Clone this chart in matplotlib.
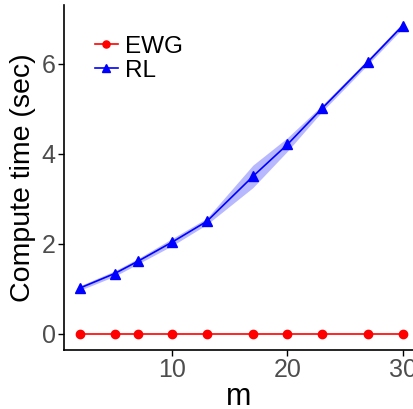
import matplotlib
matplotlib.use("Agg")
import matplotlib.pyplot as plt

m = [2, 5, 7, 10, 13, 17, 20, 23, 27, 30]
ewg = [0, 0, 0, 0, 0, 0, 0, 0, 0, 0]
rl = [1.02, 1.34, 1.61, 2.04, 2.50, 3.50, 4.21, 5.01, 6.05, 6.85]
rl_err = [0.05, 0.06, 0.06, 0.08, 0.07, 0.25, 0.15, 0.07, 0.06, 0.06]

plt.rcParams['font.family'] = ['Liberation Sans', 'DejaVu Sans']

fig = plt.figure(figsize=(4.13, 4.09), dpi=100)
ax = fig.add_axes([64 / 413, 59 / 409, 349 / 413, 345 / 409])

lo = [v - e for v, e in zip(rl, rl_err)]
hi = [v + e for v, e in zip(rl, rl_err)]
ax.fill_between(m, lo, hi, color='#0000ff', alpha=0.28, linewidth=0)
ax.plot(m, ewg, color='red', marker='o', markersize=6, linewidth=1.2, label='EWG')
ax.plot(m, rl, color='blue', marker='^', markersize=7, linewidth=1.2, label='RL')

ax.set_xlim(0.6, 30.9)
ax.set_ylim(-0.36, 7.31)
ax.set_xticks([10, 20, 30])
ax.set_yticks([0, 2, 4, 6])
for s in ['top', 'right']:
    ax.spines[s].set_visible(False)
for s in ['left', 'bottom']:
    ax.spines[s].set_linewidth(1.2)
ax.tick_params(labelsize=18, colors='black', length=4, width=1, pad=2)
for lab in ax.get_xticklabels() + ax.get_yticklabels():
    lab.set_color('#4d4d4d')

ax.set_xlabel('m', fontsize=22, labelpad=0)
ax.set_ylabel('Compute time (sec)', fontsize=20.5, labelpad=4)

leg = ax.legend(loc='upper left', bbox_to_anchor=(0.025, 0.975), frameon=False, fontsize=17.5,
                handlelength=0.95, handletextpad=0.3, labelspacing=0.1, markerscale=0.85)

fig.savefig('out.png', dpi=100)
